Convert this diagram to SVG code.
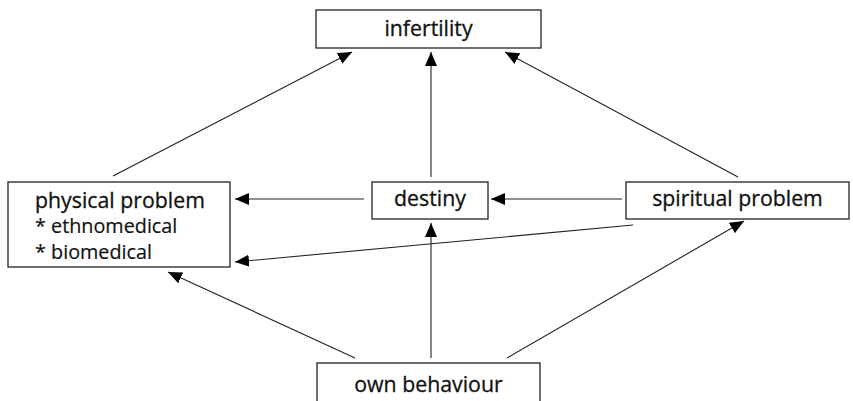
<svg xmlns="http://www.w3.org/2000/svg" width="853" height="401" viewBox="0 0 853 401">
<defs>
<marker id="ah" viewBox="0 0 14 12" refX="14" refY="6" markerWidth="14" markerHeight="12" markerUnits="userSpaceOnUse" orient="auto">
<path d="M0,0 L14,6 L0,12 Z" fill="#000"/>
</marker>
</defs>
<style>
.box{fill:#fff;stroke:#222;stroke-width:1.3}
.t{font-family:"Open Sans",Lato,"Liberation Sans",sans-serif;font-size:21.3px;fill:#111;stroke:#111;stroke-width:0.3}
.s{font-family:"Open Sans",Lato,"Liberation Sans",sans-serif;font-size:19.8px;fill:#111;stroke:#111;stroke-width:0.2}
.c{text-anchor:middle}
.ln{stroke:#222;stroke-width:1.1;fill:none;marker-end:url(#ah)}
</style>
<rect width="853" height="401" fill="#fff"/>
<g id="connectors">
<line class="ln" x1="113" y1="176" x2="352" y2="52"/>
<line class="ln" x1="431" y1="177" x2="431" y2="52"/>
<line class="ln" x1="738" y1="177" x2="505" y2="52"/>
<line class="ln" x1="364" y1="199" x2="235" y2="199"/>
<line class="ln" x1="622" y1="199" x2="491" y2="199"/>
<line class="ln" x1="633" y1="225" x2="235" y2="262"/>
<line class="ln" x1="355" y1="358" x2="168" y2="272"/>
<line class="ln" x1="431" y1="358" x2="431" y2="223"/>
<line class="ln" x1="507" y1="358" x2="744" y2="221"/>
</g>
<g id="infertility">
<rect class="box" x="316" y="10" width="225" height="38"/>
<text class="t c" x="428.5" y="36">infertility</text>
</g>
<g id="physical">
<rect class="box" x="8" y="182" width="222" height="85"/>
<text class="t" x="35" y="208">physical problem</text>
<text class="s" x="35" y="233">* ethnomedical</text>
<text class="s" x="35" y="259">* biomedical</text>
</g>
<g id="destiny">
<rect class="box" x="372" y="182" width="116" height="37"/>
<text class="t c" x="430" y="206">destiny</text>
</g>
<g id="spiritual">
<rect class="box" x="626" y="182" width="223" height="37"/>
<text class="t c" x="737.5" y="206">spiritual problem</text>
</g>
<g id="behaviour">
<rect class="box" x="317" y="363" width="223" height="45"/>
<text class="t c" x="428.5" y="392">own behaviour</text>
</g>
</svg>
